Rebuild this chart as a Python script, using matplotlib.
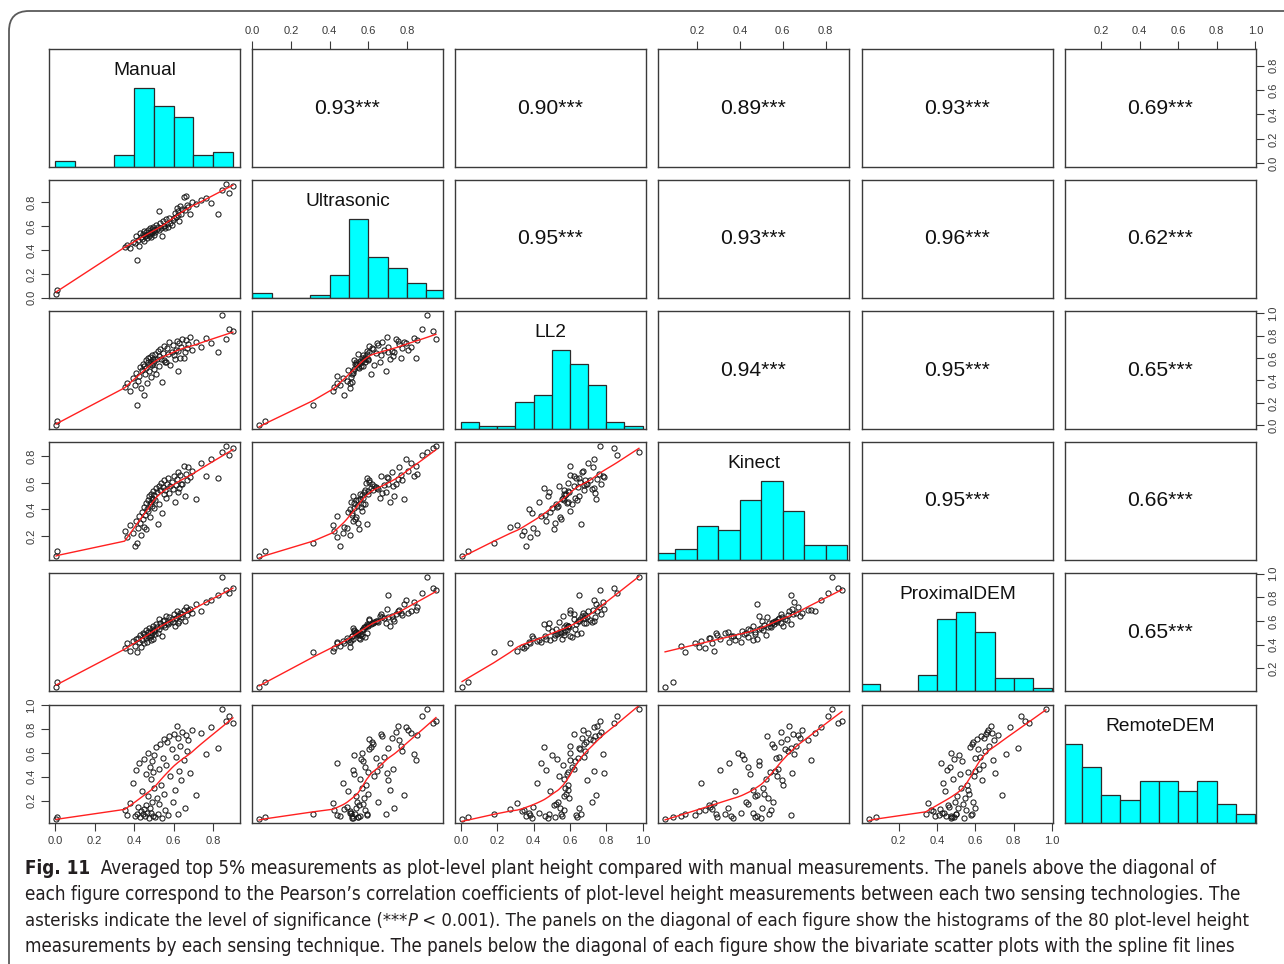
import numpy as np
import matplotlib
matplotlib.use("Agg")
import matplotlib.pyplot as plt
from matplotlib.patches import FancyBboxPatch
from matplotlib import font_manager as fm

# ---------------- data ----------------
names = ["Manual", "Ultrasonic", "LL2", "Kinect", "ProximalDEM", "RemoteDEM"]

manual = [0.005, 0.012, 0.352, 0.365, 0.38, 0.395,
          0.405, 0.41, 0.415, 0.42, 0.425, 0.43, 0.435, 0.44, 0.445, 0.448,
          0.452, 0.455, 0.458, 0.462, 0.465, 0.468, 0.472, 0.475, 0.478, 0.481,
          0.484, 0.487, 0.49, 0.492, 0.495, 0.497, 0.499,
          0.503, 0.507, 0.512, 0.515, 0.521, 0.524, 0.528, 0.533, 0.537, 0.541,
          0.546, 0.55, 0.553, 0.558, 0.562, 0.567, 0.571, 0.578, 0.584, 0.59, 0.597,
          0.604, 0.608, 0.611, 0.615, 0.62, 0.624, 0.629, 0.633, 0.638, 0.644,
          0.65, 0.655, 0.661, 0.668, 0.675, 0.684, 0.693,
          0.712, 0.738, 0.765, 0.79,
          0.822, 0.846, 0.864, 0.881, 0.9]

ultrasonic = [0.035, 0.068, 0.425, 0.44, 0.418, 0.47, 0.455, 0.52, 0.315, 0.488,
              0.436, 0.545, 0.506, 0.495, 0.531, 0.476, 0.562, 0.514, 0.527, 0.551,
              0.503, 0.538, 0.568, 0.52, 0.582, 0.534, 0.555, 0.51, 0.575, 0.541,
              0.596, 0.558, 0.524, 0.565, 0.548, 0.612, 0.579, 0.591, 0.73, 0.572,
              0.625, 0.588, 0.517, 0.64, 0.598, 0.605, 0.585, 0.66, 0.618, 0.594,
              0.672, 0.63, 0.606, 0.648, 0.665, 0.712, 0.68, 0.755, 0.69, 0.724,
              0.645, 0.768, 0.7, 0.742, 0.848, 0.733, 0.852, 0.776, 0.761, 0.698,
              0.805, 0.783, 0.82, 0.838, 0.795, 0.702, 0.905, 0.95, 0.88, 0.935]

ll2 = [0.006, 0.04, 0.345, 0.38, 0.31, 0.42, 0.36, 0.47, 0.18, 0.395,
       0.44, 0.52, 0.335, 0.49, 0.55, 0.27, 0.53, 0.46, 0.585, 0.51,
       0.375, 0.565, 0.6, 0.48, 0.61, 0.545, 0.57, 0.43, 0.63, 0.535,
       0.59, 0.555, 0.5, 0.575, 0.64, 0.455, 0.595, 0.66, 0.62, 0.525,
       0.68, 0.588, 0.39, 0.645, 0.58, 0.71, 0.565, 0.56, 0.69, 0.635,
       0.74, 0.54, 0.655, 0.72, 0.625, 0.59, 0.675, 0.75, 0.485, 0.665,
       0.73, 0.6, 0.695, 0.77, 0.598, 0.65, 0.76, 0.685, 0.725, 0.79,
       0.67, 0.745, 0.7, 0.78, 0.735, 0.65, 0.98, 0.765, 0.86, 0.84]

kinect = [0.052, 0.088, 0.24, 0.19, 0.28, 0.22, 0.125, 0.31, 0.145, 0.26,
          0.35, 0.295, 0.21, 0.38, 0.33, 0.27, 0.42, 0.36, 0.45, 0.255,
          0.405, 0.47, 0.39, 0.5, 0.44, 0.345, 0.52, 0.46, 0.49, 0.43,
          0.54, 0.48, 0.41, 0.51, 0.47, 0.56, 0.53, 0.29, 0.58, 0.44,
          0.55, 0.6, 0.37, 0.57, 0.515, 0.62, 0.545, 0.49, 0.59, 0.64,
          0.525, 0.575, 0.61, 0.555, 0.65, 0.46, 0.585, 0.63, 0.535, 0.68,
          0.565, 0.66, 0.595, 0.59, 0.73, 0.505, 0.67, 0.625, 0.72, 0.645,
          0.69, 0.48, 0.75, 0.655, 0.78, 0.64, 0.83, 0.876, 0.81, 0.86]

proximal_dem = [0.045, 0.08, 0.37, 0.41, 0.35, 0.43, 0.39, 0.45, 0.34, 0.46,
                0.42, 0.48, 0.38, 0.44, 0.5, 0.415, 0.49, 0.47, 0.52, 0.455,
                0.425, 0.505, 0.475, 0.54, 0.465, 0.51, 0.485, 0.435, 0.53, 0.495,
                0.56, 0.445, 0.515, 0.525, 0.49, 0.57, 0.545, 0.5, 0.62, 0.535,
                0.58, 0.555, 0.47, 0.6, 0.565, 0.61, 0.55, 0.64, 0.585, 0.575,
                0.63, 0.595, 0.615, 0.59, 0.655, 0.56, 0.625, 0.68, 0.58, 0.645,
                0.598, 0.67, 0.635, 0.66, 0.69, 0.6, 0.72, 0.65, 0.695, 0.7,
                0.665, 0.74, 0.685, 0.76, 0.78, 0.82, 0.968, 0.86, 0.84, 0.88]

remote_dem = [0.049, 0.06, 0.12, 0.08, 0.18, 0.35, 0.07, 0.46, 0.09, 0.15,
              0.52, 0.065, 0.11, 0.28, 0.085, 0.13, 0.55, 0.075, 0.42, 0.16,
              0.095, 0.24, 0.6, 0.055, 0.48, 0.14, 0.38, 0.1, 0.53, 0.19,
              0.44, 0.072, 0.58, 0.31, 0.062, 0.65, 0.22, 0.088, 0.47, 0.17,
              0.68, 0.33, 0.058, 0.56, 0.26, 0.72, 0.12, 0.5, 0.69, 0.078,
              0.74, 0.41, 0.63, 0.19, 0.76, 0.29, 0.57, 0.83, 0.092, 0.73,
              0.45, 0.66, 0.37, 0.78, 0.54, 0.14, 0.75, 0.62, 0.71, 0.43,
              0.79, 0.25, 0.77, 0.59, 0.82, 0.64, 0.967, 0.87, 0.91, 0.85]

corr_text = [
    ["0.93***", "0.90***", "0.89***", "0.93***", "0.69***"],
    ["0.95***", "0.93***", "0.96***", "0.62***"],
    ["0.94***", "0.95***", "0.65***"],
    ["0.95***", "0.66***"],
    ["0.65***"],
]

caption_lines = [
    [("Fig. 11", "bold", "normal"),
     ("  Averaged top 5% measurements as plot-level plant height compared with manual measurements. "
      "The panels above the diagonal of", "normal", "normal")],
    [("each figure correspond to the Pearson\u2019s correlation coefficients of plot-level height "
      "measurements between each two sensing technologies. The", "normal", "normal")],
    [("asterisks indicate the level of significance (***", "normal", "normal"),
     ("P", "normal", "italic"),
     (" < 0.001). The panels on the diagonal of each figure show the histograms of the 80 "
      "plot-level height", "normal", "normal")],
    [("measurements by each sensing technique. The panels below the diagonal of each figure show "
      "the bivariate scatter plots with the spline fit lines", "normal", "normal")],
]

series = [np.array(v, dtype=float) for v in
          (manual, ultrasonic, ll2, kinect, proximal_dem, remote_dem)]


# ---------------- helpers ----------------
def narrow_font():
    names_avail = {f.name for f in fm.fontManager.ttflist}
    if "Liberation Sans Narrow" in names_avail:
        return dict(family="Liberation Sans Narrow"), True
    for f in fm.fontManager.ttflist:
        if f.name == "DejaVu Sans" and "Condensed" in f.fname and "Bold" not in f.fname \
                and "Oblique" not in f.fname:
            return dict(family="DejaVu Sans", stretch="condensed"), True
    return dict(family="Liberation Sans"), False


cap_props, CAP_NARROW = narrow_font()
tick_font = "Liberation Sans"
tick_fs = 8.0


def lowess(x, y, f=2.0 / 3.0, iters=3):
    o = np.argsort(x, kind="stable")
    x = x[o]
    y = y[o]
    n = len(x)
    ns = max(2, min(n, int(f * n + 1e-7)))
    rw = np.ones(n)
    ys = np.empty(n)
    for it in range(iters + 1):
        for i in range(n):
            d = np.abs(x - x[i])
            h = max(np.sort(d)[ns - 1], 1e-12)
            u = d / h
            w = np.where(u < 1, (1 - u ** 3) ** 3, 0.0) * rw
            sw = w.sum()
            if sw <= 0:
                ys[i] = y[i]
                continue
            xm = (w * x).sum() / sw
            ym = (w * y).sum() / sw
            c = (w * (x - xm) ** 2).sum()
            b = (w * (x - xm) * (y - ym)).sum() / c if c > 1e-10 else 0.0
            ys[i] = ym + b * (x[i] - xm)
        if it == iters:
            break
        res = y - ys
        cm = 6 * np.median(np.abs(res))
        if cm <= 0:
            break
        u = res / cm
        rw = np.where(np.abs(u) < 1, (1 - u ** 2) ** 2, 0.0)
    return x, ys


def hist_counts(v):
    lo = np.floor(v.min() * 10 + 1e-9) / 10
    hi = np.ceil(v.max() * 10 - 1e-9) / 10
    breaks = np.round(np.arange(lo, hi + 0.05, 0.1), 6)
    counts = []
    for k in range(len(breaks) - 1):
        a, b = breaks[k], breaks[k + 1]
        if k == 0:
            c = np.sum((v >= a - 1e-9) & (v <= b + 1e-9))
        else:
            c = np.sum((v > a + 1e-9) & (v <= b + 1e-9))
        counts.append(c)
    return breaks, np.array(counts, dtype=float)


lims = []
for v in series:
    r = v.max() - v.min()
    lims.append((v.min() - 0.04 * r, v.max() + 0.04 * r))


def tick_list(lim):
    return [t for t in np.round(np.arange(0, 1.0001, 0.2), 1) if lim[0] <= t <= lim[1]]


# ---------------- figure ----------------
W, H = 1284, 964
fig = plt.figure(figsize=(W / 100, H / 100), dpi=100)
bg = fig.add_axes([0, 0, 1, 1])
bg.set_xlim(0, W)
bg.set_ylim(H, 0)
bg.axis("off")
bg.add_patch(FancyBboxPatch((9, 11), 1320, 1000,
                            boxstyle="round,pad=0,rounding_size=20",
                            fill=False, ec="#5a5a5a", lw=1.3, clip_on=False))

col_x = [49, 252, 455, 658, 862, 1065]
row_y = [49, 180, 311, 442, 573, 705]
pw, ph = 191, 118
frame_col = "#3a3a3a"
txt_col = "#333333"

for i in range(6):
    for j in range(6):
        ax = fig.add_axes([col_x[j] / W, 1 - (row_y[i] + ph) / H, pw / W, ph / H])
        for s in ax.spines.values():
            s.set_color(frame_col)
            s.set_linewidth(1.0)
        ax.tick_params(which="both", top=False, bottom=False, left=False, right=False,
                       labeltop=False, labelbottom=False, labelleft=False, labelright=False)
        if i == j:
            v = series[i]
            breaks, counts = hist_counts(v)
            ax.bar(breaks[:-1], counts / counts.max(), width=np.diff(breaks), align="edge",
                   color="#00FFFF", edgecolor="#2b2b2b", linewidth=0.9)
            ax.set_xlim(*lims[i])
            ax.set_ylim(0, 1.5)
            ax.text(0.5, 0.82, names[i], transform=ax.transAxes, ha="center", va="center",
                    fontsize=13.8, family="Liberation Sans", color="#111111")
        elif i > j:
            xv, yv = series[j], series[i]
            ax.plot(xv, yv, linestyle="none", marker="o", ms=3.7, mfc="none",
                    mec="#1a1a1a", mew=0.75)
            lx, ly = lowess(xv, yv)
            ax.plot(lx, ly, color="#ff2020", lw=1.0)
            ax.set_xlim(*lims[j])
            ax.set_ylim(*lims[i])
        else:
            ax.set_xlim(*lims[j])
            ax.set_ylim(*lims[i])
            ax.text(0.5, 0.5, corr_text[i][j - i - 1], transform=ax.transAxes,
                    ha="center", va="center", fontsize=15.2,
                    family="Liberation Sans", color="#111111")

        tkw = dict(direction="out", length=5.5, width=0.8, colors=frame_col, pad=3.5)
        lab_kw = dict(fontsize=tick_fs, family=tick_font, color=txt_col)
        if i == 0 and j % 2 == 1:
            t = tick_list(lims[j])
            ax.set_xticks(t)
            ax.set_xticklabels(["%.1f" % x for x in t], **lab_kw)
            ax.tick_params(axis="x", top=True, labeltop=True, **tkw)
        if i == 5 and j % 2 == 0:
            t = tick_list(lims[j])
            ax.set_xticks(t)
            ax.set_xticklabels(["%.1f" % x for x in t], **lab_kw)
            ax.tick_params(axis="x", bottom=True, labelbottom=True, **tkw)
        if j == 0 and i % 2 == 1:
            t = tick_list(lims[i])
            ax.set_yticks(t)
            ax.set_yticklabels(["%.1f" % x for x in t], rotation=90, va="center", **lab_kw)
            ax.tick_params(axis="y", left=True, labelleft=True, **tkw)
        if j == 5 and i % 2 == 0:
            t = tick_list(lims[i])
            ax.set_yticks(t)
            ax.set_yticklabels(["%.1f" % x for x in t], rotation=90, va="center", **lab_kw)
            ax.tick_params(axis="y", right=True, labelright=True, **tkw)

# ---------------- caption ----------------
renderer = fig.canvas.get_renderer()
cap_left = 25
baselines = [874, 900, 926, 952]
rights = [1220, 1248, 1256, 1243]


def draw_segments(segs, y, fs):
    x = cap_left
    objs = []
    for s, weight, style in segs:
        t = bg.text(x, y, s, fontsize=fs, fontweight=weight, fontstyle=style,
                    ha="left", va="baseline", color="#231f20", **cap_props)
        bb = t.get_window_extent(renderer)
        x += bb.width
        objs.append(t)
    return objs, x - cap_left


for segs, yb, xr in zip(caption_lines, baselines, rights):
    objs, w0 = draw_segments(segs, yb, 10.0)
    for o in objs:
        o.remove()
    fs = 10.0 * (xr - cap_left) / w0
    draw_segments(segs, yb, fs)

fig.savefig("out.png", dpi=100)
